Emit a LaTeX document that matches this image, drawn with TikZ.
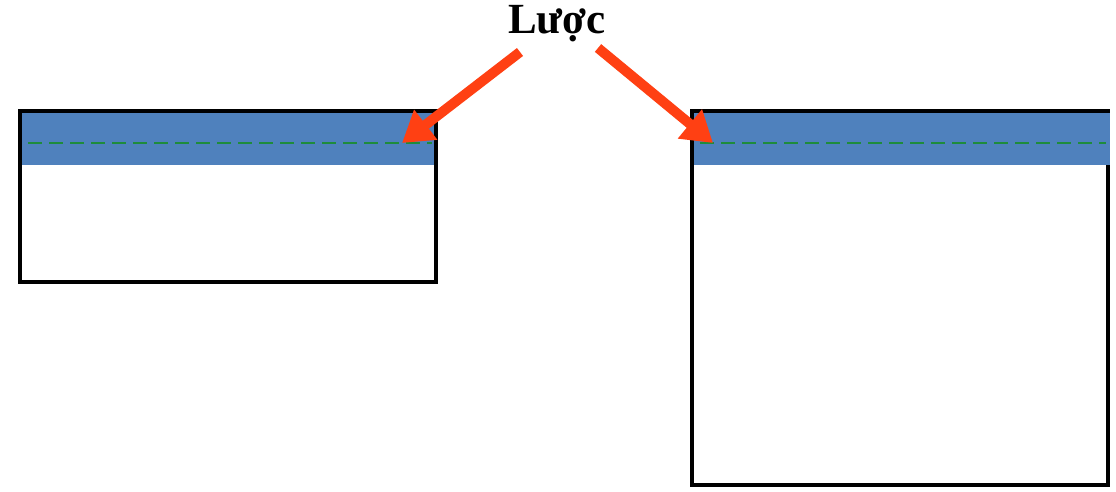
\documentclass[tikz,border=0pt]{standalone}
\usepackage{fontspec}
\setmainfont{Liberation Serif}
\usetikzlibrary{arrows.meta}
\definecolor{bandblue}{HTML}{4F81BD}
\definecolor{dashgreen}{HTML}{1E8C3C}
\definecolor{arrowred}{HTML}{FF4013}
\tikzset{
  frame/.style={draw=black, line width=3.5pt, fill=white},
  band/.style={fill=bandblue, draw=none},
  combline/.style={draw=dashgreen, line width=2pt, dash pattern=on 14pt off 7pt},
  pointer/.style={draw=arrowred, line width=10pt, -{Triangle[length=30pt,width=36pt]}},
}
\begin{document}
\begin{tikzpicture}[x=1pt,y=-1pt]
\useasboundingbox (0,0) rectangle (1116,491);
% left box
\draw[frame] (20,111) rectangle (436,282);
\fill[band] (21.7,112.7) rectangle (434.3,165);
\coordinate (l1) at (28,143);
\coordinate (l2) at (432,143);
\draw[combline] (l1) -- (l2);
% right box
\draw[frame] (692,111) rectangle (1108,485);
\fill[band] (693.7,112.7) rectangle (1110,165);
\coordinate (r1) at (700,143);
\coordinate (r2) at (1106,143);
\draw[combline] (r1) -- (r2);
% label
\node[font=\bfseries\fontsize{43}{43}\selectfont, inner sep=0pt, anchor=base] (lbl) at (557,33) {Lược};
\coordinate (la) at (520,52);
\coordinate (ra) at (598,48);
\coordinate (lt) at (402,143);
\coordinate (rt) at (713,143);
\draw[pointer] (la) -- (lt);
\draw[pointer] (ra) -- (rt);
\end{tikzpicture}
\end{document}
